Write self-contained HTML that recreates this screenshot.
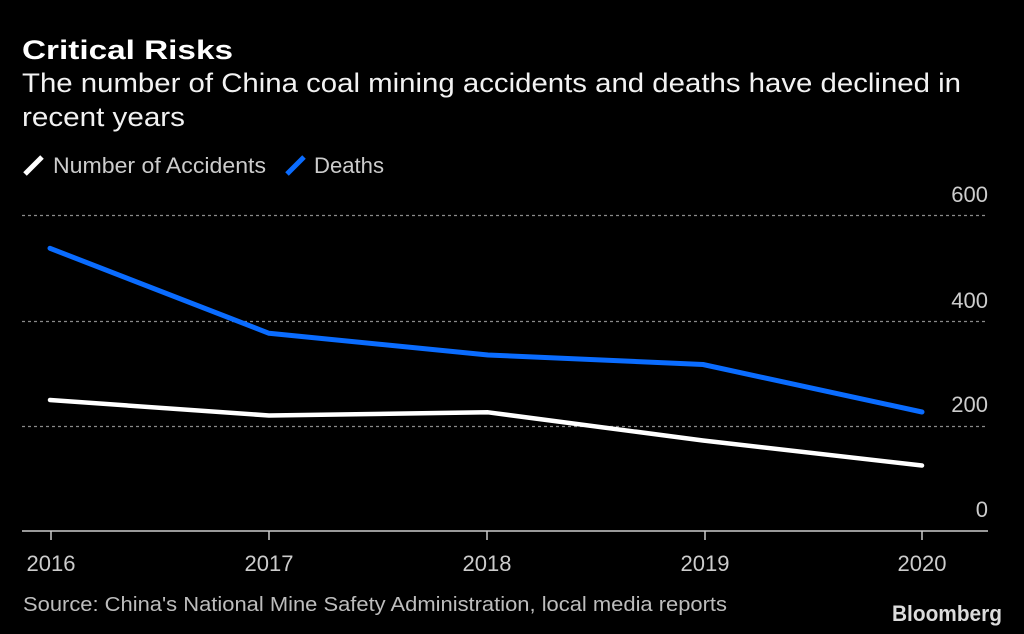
<!DOCTYPE html>
<html>
<head>
<meta charset="utf-8">
<style>
  html, body { margin: 0; padding: 0; background: #000; }
  body { width: 1024px; height: 634px; overflow: hidden; }
  svg { display: block; }
  text { font-family: "Liberation Sans", "DejaVu Sans", sans-serif; }
</style>
</head>
<body>
<svg width="1024" height="634" viewBox="0 0 1024 634" xmlns="http://www.w3.org/2000/svg">
  <rect x="0" y="0" width="1024" height="634" fill="#000"/>

  <!-- Title -->
  <text x="22" y="59" font-size="27" font-weight="bold" fill="#ffffff" textLength="211" lengthAdjust="spacingAndGlyphs">Critical Risks</text>
  <!-- Subtitle -->
  <text x="22" y="92" font-size="27" fill="#f2f2f2" textLength="939" lengthAdjust="spacingAndGlyphs">The number of China coal mining accidents and deaths have declined in</text>
  <text x="22" y="126" font-size="27" fill="#f2f2f2" textLength="163" lengthAdjust="spacingAndGlyphs">recent years</text>

  <!-- Legend -->
  <line x1="25" y1="174" x2="42" y2="157" stroke="#ffffff" stroke-width="5" stroke-linecap="butt"/>
  <text x="53" y="173" font-size="22" fill="#cccccc" textLength="213" lengthAdjust="spacingAndGlyphs">Number of Accidents</text>
  <line x1="287" y1="174" x2="304" y2="157" stroke="#0a6cff" stroke-width="5" stroke-linecap="butt"/>
  <text x="314" y="173" font-size="22" fill="#cccccc" textLength="70" lengthAdjust="spacingAndGlyphs">Deaths</text>

  <!-- Gridlines -->
  <g stroke="#8a8a8a" stroke-width="1.2" stroke-dasharray="3,3">
    <line x1="22" y1="215.5" x2="988" y2="215.5"/>
    <line x1="22" y1="321.5" x2="988" y2="321.5"/>
    <line x1="22" y1="426.5" x2="988" y2="426.5"/>
  </g>

  <!-- Y labels -->
  <g font-size="22" fill="#cccccc" text-anchor="end">
    <text x="988" y="202">600</text>
    <text x="988" y="308">400</text>
    <text x="988" y="412">200</text>
    <text x="988" y="517">0</text>
  </g>

  <!-- Axis -->
  <line x1="22" y1="531" x2="988" y2="531" stroke="#cccccc" stroke-width="1.5"/>
  <g stroke="#cccccc" stroke-width="1.5">
    <line x1="51" y1="531" x2="51" y2="540"/>
    <line x1="269" y1="531" x2="269" y2="540"/>
    <line x1="487" y1="531" x2="487" y2="540"/>
    <line x1="705" y1="531" x2="705" y2="540"/>
    <line x1="922" y1="531" x2="922" y2="540"/>
  </g>

  <!-- X labels -->
  <g font-size="22" fill="#cccccc" text-anchor="middle">
    <text x="51" y="571">2016</text>
    <text x="269" y="571">2017</text>
    <text x="487" y="571">2018</text>
    <text x="705" y="571">2019</text>
    <text x="922" y="571">2020</text>
  </g>

  <!-- Series -->
  <polyline fill="none" stroke="#0a6cff" stroke-width="5" stroke-linejoin="round" stroke-linecap="round"
    points="50,248.3 269,333.3 488,355 703,364.5 922,412"/>
  <polyline fill="none" stroke="#ffffff" stroke-width="4.5" stroke-linejoin="round" stroke-linecap="round"
    points="50,400 269,415.5 488,412.3 703,440.5 922,465.5"/>

  <!-- Source -->
  <text x="23" y="611" font-size="20" fill="#bdbdbd" textLength="704" lengthAdjust="spacingAndGlyphs">Source: China's National Mine Safety Administration, local media reports</text>

  <!-- Bloomberg -->
  <text x="892" y="621" font-size="22" font-weight="bold" fill="#dcdcdc" textLength="110" lengthAdjust="spacingAndGlyphs">Bloomberg</text>
</svg>
</body>
</html>
